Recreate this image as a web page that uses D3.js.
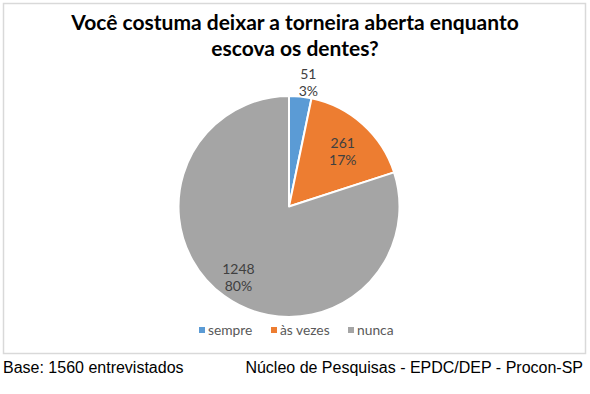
<!DOCTYPE html>
<html><head><meta charset="utf-8">
<script src="https://cdn.jsdelivr.net/npm/d3@7"></script>
<style>
html,body{margin:0;padding:0;background:#fff;}
svg{display:block;}
</style></head>
<body>
<svg id="chart" width="590" height="394"></svg>
<script>
const categories = ["sempre", "às vezes", "nunca"];
const values = [51, 261, 1248];
const percentLabels = ["3%", "17%", "80%"];
const colors = ["#5B9BD5", "#ED7D31", "#A5A5A5"];
const titleLines = ["Você costuma deixar a torneira aberta enquanto", "escova os dentes?"];
const footLeft = "Base: 1560 entrevistados";
const footRight = "Núcleo de Pesquisas - EPDC/DEP - Procon-SP";

const svg = d3.select("#chart");
svg.append("rect").attr("x",0).attr("y",0).attr("width",590).attr("height",394).attr("fill","#fff");
// chart frame
svg.append("rect").attr("x",3.5).attr("y",3.5).attr("width",582).attr("height",350)
  .attr("fill","#fff").attr("stroke","#d9d9d9").attr("stroke-width",1.5);

// title
svg.selectAll("text.title").data(titleLines).join("text").attr("class","title")
  .attr("x",295).attr("y",(d,i)=>30+i*26)
  .attr("text-anchor","middle")
  .attr("font-family","Lato, 'Open Sans', sans-serif").attr("font-weight","bold")
  .attr("font-size",21).attr("fill","#000").text(d=>d);

const cx=289, cy=206.5, R=110.5;
const g = svg.append("g").attr("transform",`translate(${cx},${cy})`);
const pie = d3.pie().sort(null).value(d=>d)(values);
const arc = d3.arc().innerRadius(0).outerRadius(R);
g.selectAll("path").data(pie).join("path")
  .attr("d",arc).attr("fill",(d,i)=>colors[i])
  .attr("stroke","#fff").attr("stroke-width",2).attr("stroke-linejoin","round");

const labelR = [127, 78, 86];
const labelAngleShift = [0.05, 0.03, 0];
const lg = g.selectAll("g.lab").data(pie).join("g").attr("class","lab")
  .attr("transform",(d,i)=>{
    const a=(d.startAngle+d.endAngle)/2 + labelAngleShift[i];
    return `translate(${Math.sin(a)*labelR[i]},${-Math.cos(a)*labelR[i]})`;
  });
lg.append("text").attr("text-anchor","middle").attr("y",-2)
  .attr("font-family","Lato, 'Open Sans', sans-serif").attr("font-size",14).attr("fill","#404040")
  .text((d,i)=>values[i]);
lg.append("text").attr("text-anchor","middle").attr("y",15)
  .attr("font-family","Lato, 'Open Sans', sans-serif").attr("font-size",14).attr("fill","#404040")
  .text((d,i)=>percentLabels[i]);

// legend
const legX=[199,271,348];
const leg = svg.selectAll("g.leg").data(categories).join("g").attr("class","leg")
  .attr("transform",(d,i)=>`translate(${legX[i]},331)`);
leg.append("rect").attr("x",0).attr("y",-4).attr("width",6).attr("height",6).attr("fill",(d,i)=>colors[i]);
leg.append("text").attr("x",9).attr("y",4).attr("font-family","Lato, 'Open Sans', sans-serif")
  .attr("font-size",13.8).attr("fill","#595959").text(d=>d);

// footer
svg.append("text").attr("x",3).attr("y",373).attr("font-family","'Liberation Sans', Arial, sans-serif")
  .attr("font-size",16).attr("fill","#000").text(footLeft);
svg.append("text").attr("x",583).attr("y",373).attr("text-anchor","end").attr("font-family","'Liberation Sans', Arial, sans-serif")
  .attr("font-size",16).attr("fill","#000").text(footRight);
</script>
</body></html>
